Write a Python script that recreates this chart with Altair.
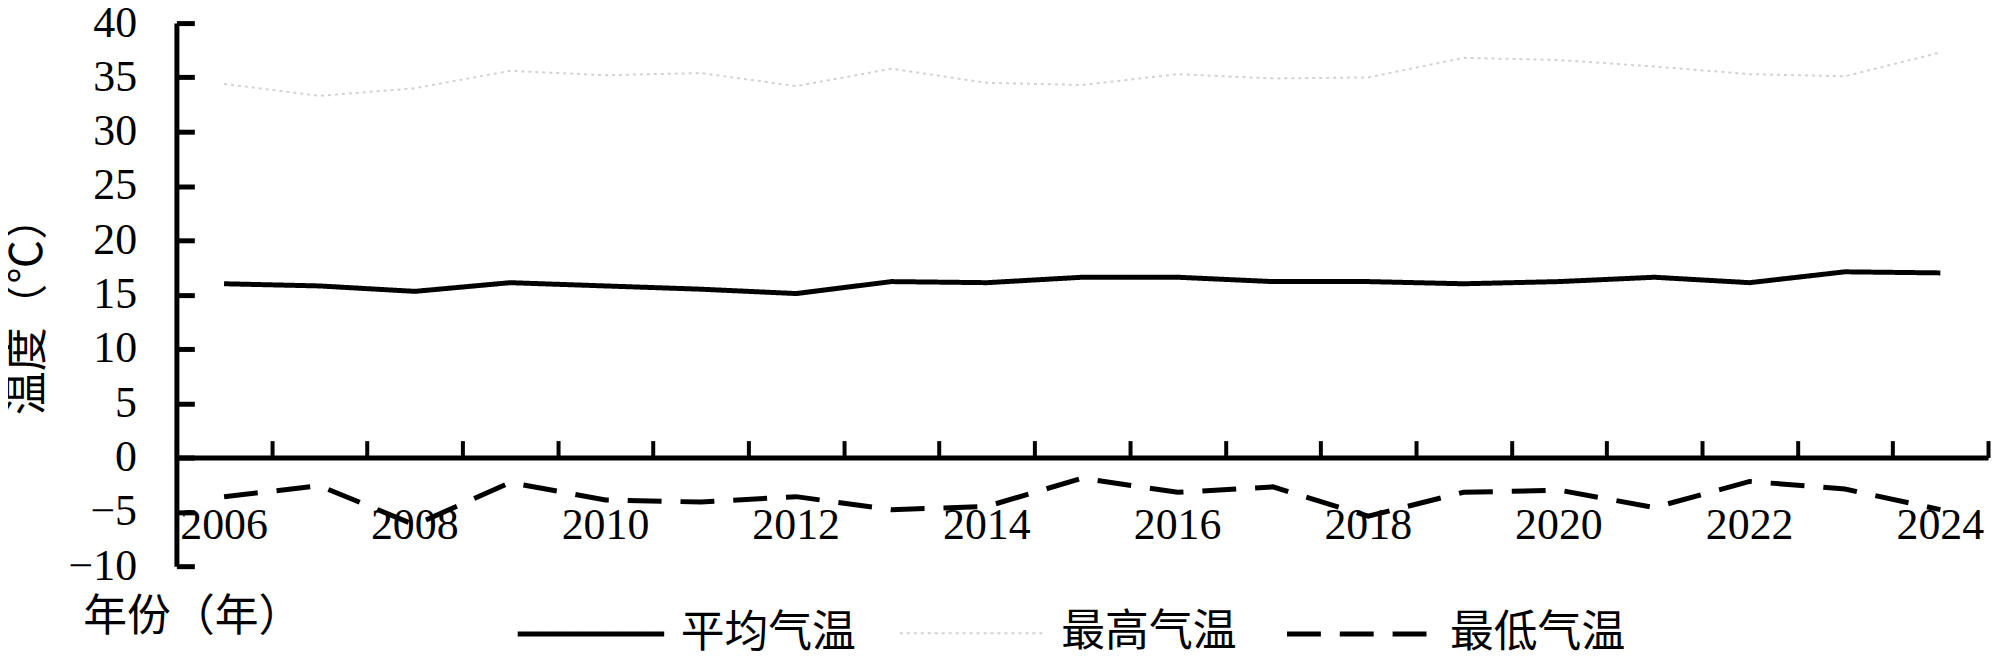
import altair as alt
import pandas as pd

# ---------------- data ----------------
years = [str(y) for y in range(2006, 2025)]
label_years = [str(y) for y in range(2006, 2025, 2)]
series_names = ["平均气温", "最高气温", "最低气温"]
avg_temp = [16.0, 15.8, 15.3, 16.1, 15.8, 15.5, 15.1, 16.2, 16.1, 16.6,
            16.6, 16.2, 16.2, 16.0, 16.2, 16.6, 16.1, 17.1, 17.0]
max_temp = [34.4, 33.3, 34.0, 35.6, 35.2, 35.4, 34.2, 35.8, 34.5, 34.3,
            35.3, 34.9, 35.0, 36.8, 36.6, 36.0, 35.3, 35.1, 37.3]
min_temp = [-3.6, -2.6, -6.2, -2.3, -3.9, -4.1, -3.6, -4.8, -4.5, -1.9,
            -3.2, -2.7, -5.4, -3.2, -3.0, -4.6, -2.2, -2.9, -4.8]
y_ticks = [-10, -5, 0, 5, 10, 15, 20, 25, 30, 35, 40]
y_title = "温度（℃）"
x_title = "年份（年）"

rows = []
for name, vals in zip(series_names, [avg_temp, max_temp, min_temp]):
    for yr, v in zip(years, vals):
        rows.append({"year": yr, "series": name, "value": v})
df = pd.DataFrame(rows)

# ---------------- layout ----------------
W, H = 1818, 545
ymin, ymax = -10, 40
zero_px = H * (ymax - 0) / (ymax - ymin)   # pixel row of y = 0 inside plot
num_font = "Liberation Serif"
cjk_font = "Noto Sans CJK SC"

xscale = alt.Scale(type="band", domain=years, paddingInner=0, paddingOuter=0)
yscale = alt.Scale(domain=[ymin, ymax], nice=False, zero=False)

legend = alt.Legend(
    orient="none", legendX=340, legendY=537, direction="horizontal",
    title=None, symbolType="stroke", symbolSize=21609,
    labelFont=cjk_font, labelFontSize=44, labelColor="#000000",
    labelOffset=14, columnPadding=40, padding=0, labelLimit=0,
)

lines = alt.Chart(df).mark_line().encode(
    x=alt.X("year:O", scale=xscale, sort=years,
            axis=alt.Axis(orient="bottom", offset=-(H - zero_px), values=label_years,
                          ticks=False, domain=False, grid=False, labelAngle=0,
                          labelFont=num_font, labelFontSize=44, labelColor="#000000",
                          labelPadding=46, labelBaseline="top",
                          title=x_title, titleX=-94, titleY=161, titleAlign="left",
                          titleBaseline="middle", titleFont=cjk_font, titleFontSize=44,
                          titleFontWeight="normal", titleColor="#000000")),
    y=alt.Y("value:Q", scale=yscale,
            axis=alt.Axis(orient="left", values=y_ticks, ticks=False, domain=False,
                          grid=False, labelFont=num_font, labelFontSize=44,
                          labelColor="#000000", labelPadding=40,
                          title=y_title, titleX=-148, titleY=283, titleAngle=-90,
                          titleAlign="center", titleBaseline="middle",
                          titleFont=cjk_font, titleFontSize=44,
                          titleFontWeight="normal", titleColor="#000000")),
    color=alt.Color("series:N",
                    scale=alt.Scale(domain=series_names,
                                    range=["#000000", "#d2d2d2", "#000000"]),
                    legend=legend),
    strokeDash=alt.StrokeDash("series:N",
                              scale=alt.Scale(domain=series_names,
                                              range=[[1, 0], [3, 4], [34, 19]]),
                              legend=legend),
    strokeWidth=alt.StrokeWidth("series:N",
                                scale=alt.Scale(type="ordinal", domain=series_names,
                                                range=[5, 2, 5]),
                                legend=legend),
)

frame = alt.Chart(df).mark_line(opacity=0).encode(
    x=alt.X("year:O", scale=xscale, sort=years,
            axis=alt.Axis(orient="top", offset=-zero_px, labels=False, grid=False,
                          ticks=True, tickSize=17, tickWidth=4, tickColor="#000000",
                          tickBand="extent", domain=True, domainWidth=5,
                          domainColor="#000000", title=None)),
    y=alt.Y("value:Q", scale=yscale,
            axis=alt.Axis(orient="right", offset=-W, values=y_ticks, labels=False,
                          grid=False, ticks=True, tickSize=18, tickWidth=5,
                          tickColor="#000000", domain=True, domainWidth=5,
                          domainColor="#000000", title=None)),
    detail="series:N",
)

chart = alt.layer(lines, frame).resolve_axis(
    x="independent", y="independent"
).properties(
    width=W, height=H,
    padding={"left": 169, "top": 14, "right": 4, "bottom": 86},
    autosize=alt.AutoSizeParams(type="none"),
    background="#ffffff",
).configure_view(strokeWidth=0)

chart.save("out.html", embed_options={"renderer": "svg", "actions": False})
